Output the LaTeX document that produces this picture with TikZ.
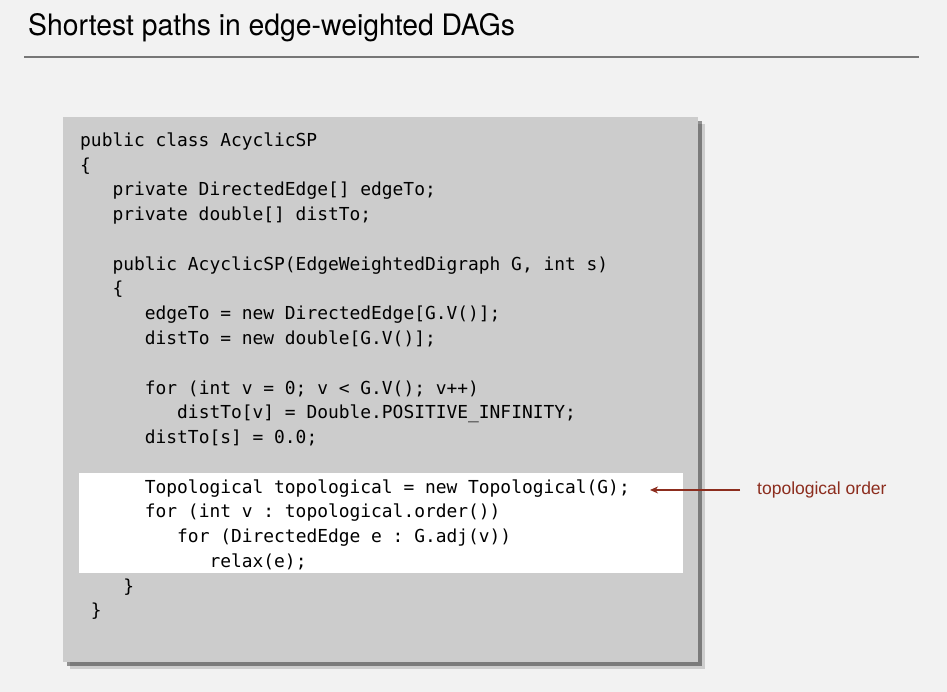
\documentclass[tikz,border=0pt]{standalone}
\usepackage{fontspec}
\setmainfont{Liberation Sans}
\setmonofont{DejaVu Sans Mono}
\newfontfamily\titlefont[FakeStretch=0.96]{TeX Gyre Heros}
\usetikzlibrary{shadows,arrows.meta}

\definecolor{pagebg}{HTML}{F2F2F2}
\definecolor{codebg}{HTML}{CCCCCC}
\definecolor{rulegray}{HTML}{777777}
\definecolor{notered}{RGB}{140,45,30}

\newcommand{\cw}{10.78}   % column width of the code font
\newcommand{\lh}{24.75}   % line pitch of the code

\tikzset{
  code/.style={anchor=base west, inner sep=0pt, font=\ttfamily\fontsize{17.9}{20}\selectfont},
  note/.style={anchor=base west, inner sep=0pt, text=notered, font=\fontsize{17.5}{20}\selectfont},
  notearrow/.style={draw=notered, line width=1.4pt, -{Stealth[length=8pt,width=7pt]}}
}

\begin{document}
\begin{tikzpicture}[x=1pt,y=-1pt]
\fill[pagebg] (0,0) rectangle (947,692);
\useasboundingbox (0,0) rectangle (947,692);

% title and rule
\node [anchor=base west, inner sep=0pt, font=\titlefont\fontsize{29.5}{32}\selectfont] (title) at (28,36) {Shortest paths in edge-weighted DAGs};
\coordinate (ruleL) at (24,57);
\coordinate (ruleR) at (919,57);
\draw [rulegray, line width=1.5pt] (ruleL) -- (ruleR);

% code panel
\fill [codebg,
  drop shadow={shadow xshift=7pt, shadow yshift=-7pt, opacity=0.15, fill=black},
  drop shadow={shadow xshift=4pt, shadow yshift=-4pt, opacity=0.4, fill=black}]
  (63,117) rectangle (698,662);
\fill [white] (79,473) rectangle (683,573);

\node [code] (cls)    at ({80+0*\cw},{146.5+0*\lh})  {public class AcyclicSP};
\node [code] (open)   at ({80+0*\cw},{146.5+1*\lh})  {\{};
\node [code] (fedge)  at ({80+3*\cw},{146.5+2*\lh})  {private DirectedEdge[] edgeTo;};
\node [code] (fdist)  at ({80+3*\cw},{146.5+3*\lh})  {private double[] distTo;};
\node [code] (ctor)   at ({80+3*\cw},{146.5+5*\lh})  {public AcyclicSP(EdgeWeightedDigraph G, int s)};
\node [code] (copen)  at ({80+3*\cw},{146.5+6*\lh})  {\{};
\node [code] (iedge)  at ({80+6*\cw},{146.5+7*\lh})  {edgeTo = new DirectedEdge[G.V()];};
\node [code] (idist)  at ({80+6*\cw},{146.5+8*\lh})  {distTo = new double[G.V()];};
\node [code] (loop)   at ({80+6*\cw},{146.5+10*\lh}) {for (int v = 0; v < G.V(); v++)};
\node [code] (inf)    at ({80+9*\cw},{146.5+11*\lh}) {distTo[v] = Double.POSITIVE\_INFINITY;};
\node [code] (src)    at ({80+6*\cw},{146.5+12*\lh}) {distTo[s] = 0.0;};
\node [code] (topo)   at ({80+6*\cw},{146.5+14*\lh}) {Topological topological = new Topological(G);};
\node [code] (order)  at ({80+6*\cw},{146.5+15*\lh}) {for (int v : topological.order())};
\node [code] (adj)    at ({80+9*\cw},{146.5+16*\lh}) {for (DirectedEdge e : G.adj(v))};
\node [code] (relax)  at ({80+12*\cw},{146.5+17*\lh}) {relax(e);};
\node [code] (cclose) at ({80+4*\cw},{146.5+18*\lh}) {\}};
\node [code] (close)  at ({80+1*\cw},{146.5+19*\lh}) {\}};

% annotation
\node [note] (toporder) at (757,494.5) {topological order};
\draw [notearrow, shorten <=17pt, shorten >=20pt] (toporder.west) -- (toporder.west -| topo.east);
\end{tikzpicture}
\end{document}
